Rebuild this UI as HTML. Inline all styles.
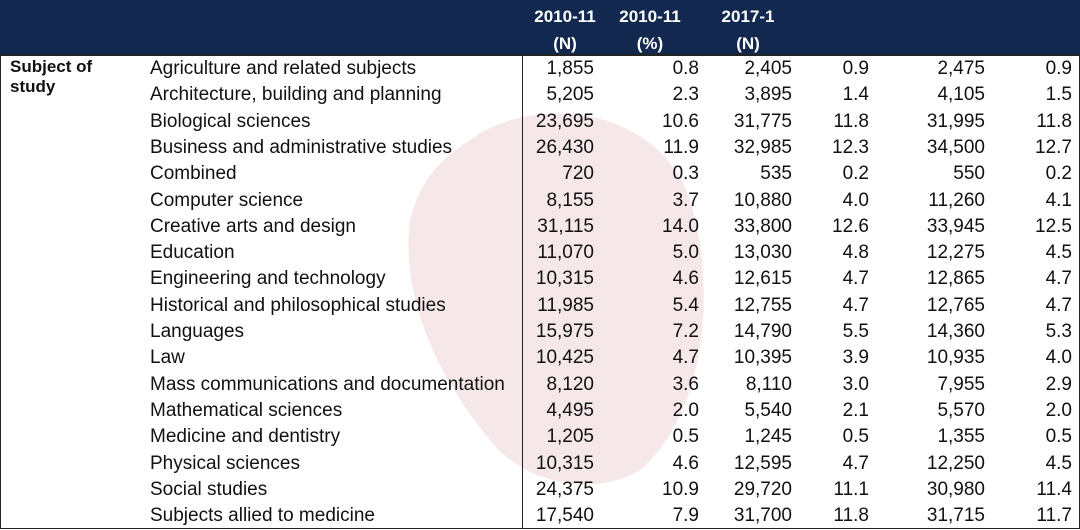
<!DOCTYPE html>
<html><head><meta charset="utf-8"><style>
body{margin:0;width:1080px;height:530px;background:#fff;position:relative;overflow:hidden;font-family:"Liberation Sans",sans-serif;}
.hdr{position:absolute;left:0;top:0;width:1080px;height:54px;background:#12284f;}
.ht{position:absolute;color:#fff;font-weight:bold;font-size:17px;text-align:center;width:90px;line-height:27px;top:3px;}
.r{position:absolute;left:0;width:1080px;height:26.3px;font-size:19px;color:#111;}
.r span{position:absolute;top:2px;white-space:nowrap;}
.lab{left:150px;}
.n{text-align:right;}
</style></head><body>
<div class="hdr">
<div class="ht" style="left:520px">2010-11<br>(N)</div>
<div class="ht" style="left:605px">2010-11<br>(%)</div>
<div class="ht" style="left:703px">2017-1<br>(N)</div>
</div>
<svg style="position:absolute;left:0;top:0" width="1080" height="530">
<path d="M470 140 C540 90 660 110 690 200 C720 300 700 420 640 470 C590 500 520 480 490 440 C440 380 400 300 410 220 C420 180 440 160 470 140Z" fill="#f6e8e8"/>
</svg>
<div style="position:absolute;left:0;top:54px;width:1078px;height:472px;border:1px solid #222;border-top:2px solid #222"></div>
<div style="position:absolute;left:522px;top:54px;width:1px;height:474px;background:#222"></div>
<div style="position:absolute;left:10px;top:57px;font-weight:bold;font-size:17px;line-height:20px;color:#111">Subject of<br>study</div>
<div id="rows"></div>
<script>
const subjects=["Agriculture and related subjects","Architecture, building and planning","Biological sciences","Business and administrative studies","Combined","Computer science","Creative arts and design","Education","Engineering and technology","Historical and philosophical studies","Languages","Law","Mass communications and documentation","Mathematical sciences","Medicine and dentistry","Physical sciences","Social studies","Subjects allied to medicine"];
const n2010=["1,855","5,205","23,695","26,430","720","8,155","31,115","11,070","10,315","11,985","15,975","10,425","8,120","4,495","1,205","10,315","24,375","17,540"];
const p2010=["0.8","2.3","10.6","11.9","0.3","3.7","14.0","5.0","4.6","5.4","7.2","4.7","3.6","2.0","0.5","4.6","10.9","7.9"];
const n2017a=["2,405","3,895","31,775","32,985","535","10,880","33,800","13,030","12,615","12,755","14,790","10,395","8,110","5,540","1,245","12,595","29,720","31,700"];
const p2017a=["0.9","1.4","11.8","12.3","0.2","4.0","12.6","4.8","4.7","4.7","5.5","3.9","3.0","2.1","0.5","4.7","11.1","11.8"];
const n2017b=["2,475","4,105","31,995","34,500","550","11,260","33,945","12,275","12,865","12,765","14,360","10,935","7,955","5,570","1,355","12,250","30,980","31,715"];
const p2017b=["0.9","1.5","11.8","12.7","0.2","4.1","12.5","4.5","4.7","4.7","5.3","4.0","2.9","2.0","0.5","4.5","11.4","11.7"];
const cols=[n2010,p2010,n2017a,p2017a,n2017b,p2017b];
const rights=[594,699,792,869,985,1072];
const names=['n-2010','pct-2010','n-2017a','pct-2017a','n-2017b','pct-2017b'];
const box=document.getElementById('rows');
subjects.forEach((s,i)=>{
  const r=document.createElement('div');r.className='r';r.style.top=(56+i*26.3)+'px';
  
  
  const l=document.createElement('span');l.className='lab';l.textContent=s;
  
  
  r.appendChild(l);
  cols.forEach((c,j)=>{
    const v=document.createElement('span');v.className='n';v.textContent=c[i];
    v.style.right=(1080-rights[j])+'px';
    
    
    r.appendChild(v);
  });
  box.appendChild(r);
});
</script>
</body></html>
